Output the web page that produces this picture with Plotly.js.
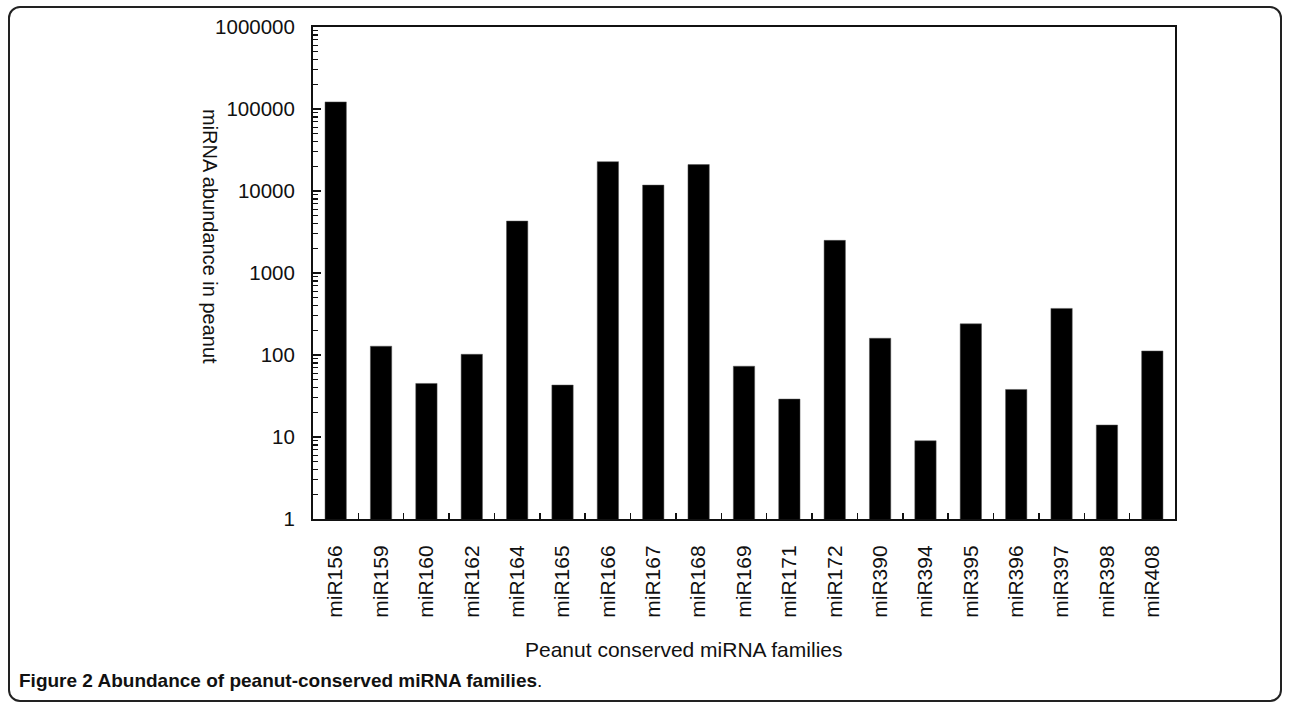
<!DOCTYPE html>
<html>
<head>
<meta charset="utf-8">
<script src="https://cdn.plot.ly/plotly-3.0.1.min.js"></script>
<style>
  html, body { margin: 0; padding: 0; background: #fff; }
  #wrap { position: relative; width: 1290px; height: 702px; }
  #chart { position: absolute; left: 0; top: 0; width: 1290px; height: 702px; }
  #frame { position: absolute; left: 8px; top: 6px; width: 1274px; height: 696px;
           border: 2px solid #222; border-radius: 12px; box-sizing: border-box; pointer-events: none; }
</style>
</head>
<body>
<div id="wrap">
  <div id="chart"></div>
  <div id="frame"></div>
</div>
<script>
const families = ["miR156","miR159","miR160","miR162","miR164","miR165","miR166","miR167","miR168","miR169",
                  "miR171","miR172","miR390","miR394","miR395","miR396","miR397","miR398","miR408"];
const abundance = [122000, 128, 45, 102, 4300, 43, 22800, 11800, 21000, 73,
                   29, 2500, 160, 9, 240, 38, 370, 14, 112];
const yTickVals = [1, 10, 100, 1000, 10000, 100000, 1000000];
const yTickText = ["1","10","100","1000","10000","100000","1000000"];
const xTitle = "Peanut conserved miRNA families";
const yTitle = "miRNA abundance in peanut";
const caption = "<b>Figure 2 Abundance of peanut-conserved miRNA families</b>.";

// minor log ticks (2..9 within each decade) for the axis
const minorTicks = [];
for (let d = 0; d < yTickVals.length - 1; d++) {
  for (let k = 2; k <= 9; k++) minorTicks.push(k * yTickVals[d]);
}

const L = 313, R = 1175, T = 27, B = 519;
const W = 1290, H = 702;
const px = x => (x - L) / (R - L);
const py = y => (B - y) / (B - T);

const trace = {
  type: 'bar',
  x: families,
  y: abundance,
  marker: { color: '#000', line: { color: '#555', width: 0.5 } },
  width: 0.47,
  hoverinfo: 'x+y'
};

const font = "Liberation Sans, Arial, Helvetica, sans-serif";

const layout = {
  width: W, height: H,
  margin: { l: L, r: W - R, t: T, b: H - B, pad: 0 },
  paper_bgcolor: 'rgba(0,0,0,0)',
  plot_bgcolor: '#fff',
  showlegend: false,
  font: { family: font, color: '#111' },
  xaxis: {
    type: 'category',
    showline: true, linecolor: '#111', linewidth: 2, mirror: true,
    ticks: 'inside', ticklen: 6, tickwidth: 1.5, tickcolor: '#111',
    tickson: 'boundaries',
    tickangle: -90,
    tickfont: { family: font, size: 21, color: '#111' },
    ticklabelstandoff: 16,
    showgrid: false, zeroline: false
  },
  yaxis: {
    type: 'log',
    range: [0, 6],
    tickmode: 'array',
    tickvals: yTickVals, ticktext: yTickText,
    showline: true, linecolor: '#111', linewidth: 2, mirror: true,
    ticks: 'inside', ticklen: 8, tickwidth: 1.5, tickcolor: '#111',
    minor: { tickmode: 'array', tickvals: minorTicks, ticks: 'inside', ticklen: 5, tickwidth: 1.2, tickcolor: '#111', showgrid: false },
    tickfont: { family: font, size: 20.5, color: '#111' },
    ticklabelstandoff: 12,
    showgrid: false, zeroline: false
  },
  annotations: [
    { xref: 'paper', yref: 'paper', x: px(683), y: py(650), text: xTitle, showarrow: false,
      xanchor: 'center', yanchor: 'middle', font: { family: font, size: 21, color: '#111' } },
    { xref: 'paper', yref: 'paper', x: px(210), y: py(236), text: yTitle, showarrow: false, textangle: 90,
      xanchor: 'center', yanchor: 'middle', font: { family: font, size: 20, color: '#111' } },
    { xref: 'paper', yref: 'paper', x: px(17), y: py(680), text: caption, showarrow: false,
      xanchor: 'left', yanchor: 'middle', font: { family: font, size: 19, color: '#111' } }
  ]
};

Plotly.newPlot('chart', [trace], layout, { displayModeBar: false, staticPlot: true });
</script>
</body>
</html>
